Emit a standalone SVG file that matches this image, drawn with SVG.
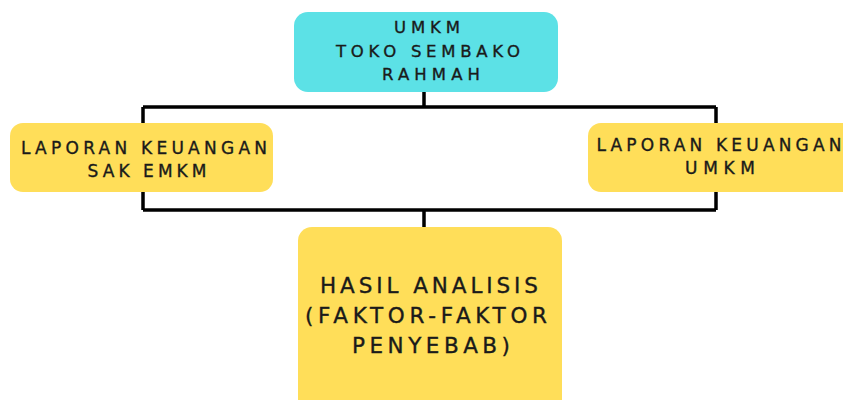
<svg xmlns="http://www.w3.org/2000/svg" width="843" height="400" viewBox="0 0 843 400">
<style>
.t{font-family:"DejaVu Sans","Noto Sans",sans-serif;fill:#1a1a1a;stroke:#1a1a1a;stroke-width:0.35;text-anchor:middle}
.s{font-size:16.5px}
.m{font-size:17px}
.l{font-size:21.5px}
.c{fill:none;stroke:#000;stroke-width:3.5}
</style>
<rect width="843" height="400" fill="#fff"/>
<g id="connectors">
<path class="c" d="M424 92V107M143 107H716M143 107V210M716 107V210M143 210H716M424 210V227"/>
</g>
<g id="umkm">
<rect x="294" y="12" width="264" height="80" rx="14" fill="#5CE1E6"/>
<text class="t s" x="427" y="33" textLength="66" lengthAdjust="spacing">UMKM</text>
<text class="t s" x="428" y="57" textLength="184" lengthAdjust="spacing">TOKO SEMBAKO</text>
<text class="t s" x="431" y="80" textLength="98" lengthAdjust="spacing">RAHMAH</text>
</g>
<g id="sak">
<rect x="10" y="123" width="263" height="69" rx="13" fill="#FFDE59"/>
<text class="t m" x="144" y="154" textLength="246" lengthAdjust="spacing">LAPORAN KEUANGAN</text>
<text class="t m" x="147" y="177" textLength="119" lengthAdjust="spacing">SAK EMKM</text>
</g>
<g id="lapumkm">
<rect x="588" y="123" width="270" height="69" rx="13" fill="#FFDE59"/>
<text class="t m" x="719" y="151" textLength="245" lengthAdjust="spacing">LAPORAN KEUANGAN</text>
<text class="t m" x="720" y="174" textLength="70" lengthAdjust="spacing">UMKM</text>
</g>
<g id="hasil">
<rect x="298" y="227" width="264" height="190" rx="14" fill="#FFDE59"/>
<text class="t l" x="429" y="293" textLength="218" lengthAdjust="spacing">HASIL ANALISIS</text>
<text class="t l" x="426" y="323" textLength="242" lengthAdjust="spacing">(FAKTOR-FAKTOR</text>
<text class="t l" x="431" y="353" textLength="158" lengthAdjust="spacing">PENYEBAB)</text>
</g>
</svg>
